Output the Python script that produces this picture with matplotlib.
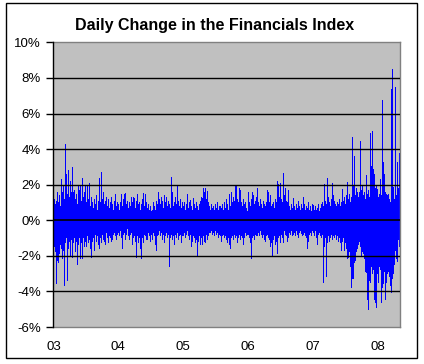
import numpy as np
import matplotlib
matplotlib.use("Agg")
import matplotlib.pyplot as plt
from matplotlib.patches import Rectangle

plt.rcParams['font.family'] = ['Liberation Sans', 'DejaVu Sans']

# Daily % change of the financials index, grouped in short periods
# (about 4 trading days each): largest gain and largest loss per period.
PERIODS_PER_YEAR = 65
start_year = 2003

gain_2003 = [3.0, 1.2, 0.9, 1.1, 1.6, 1.0, 1.4, 0.8, 2.3, 1.6, 1.9, 1.2, 4.3, 2.6, 1.5, 2.8,
             1.3, 2.2, 1.6, 3.0, 1.6, 1.7, 1.2, 1.5, 0.9, 2.0, 1.7, 2.0, 1.1, 2.4, 1.3, 1.6,
             2.0, 1.0, 2.0, 1.2, 2.1, 0.8, 1.3, 1.0, 0.7, 1.2, 0.9, 1.4, 0.6, 1.1, 2.4, 1.0,
             2.7, 1.2, 1.6, 0.9, 1.1, 1.3, 0.8, 1.2, 0.7, 1.0, 1.3, 0.9, 0.6, 1.1, 1.5, 0.8,
             1.0]
loss_2003 = [-1.1, -1.5, -1.8, -3.6, -2.3, -2.4, -1.9, -1.4, -1.6, -2.2, -1.7, -3.7, -1.3, -1.0, -3.4, -1.6,
             -1.2, -2.0, -1.1, -2.1, -1.3, -1.0, -1.8, -1.2, -2.5, -1.4, -1.0, -2.2, -1.3, -2.2, -1.0, -1.5,
             -1.2, -1.5, -0.9, -1.3, -1.1, -1.6, -2.1, -1.2, -1.0, -1.7, -0.8, -1.2, -0.9, -1.4, -1.6, -1.0,
             -1.3, -0.8, -1.1, -1.2, -1.4, -0.7, -1.0, -1.3, -0.9, -1.0, -1.2, -1.1, -0.8, -0.7, -0.9, -1.1,
             -0.8]

gain_2004 = [0.9, 0.6, 1.0, 1.45, 0.8, 1.2, 1.5, 1.55, 0.9, 1.1, 0.7, 1.0, 0.8, 1.3, 1.0, 1.3,
             1.25, 0.7, 1.1, 1.5, 0.9, 1.0, 0.6, 0.9, 1.2, 1.55, 0.8, 1.5, 1.0, 0.7, 0.9, 0.6,
             0.8, 0.5, 0.6, 1.0, 0.8, 0.6, 1.1, 0.9, 1.6, 1.2, 0.9, 1.3, 1.1, 0.7, 1.4, 1.0,
             1.3, 0.8, 1.1, 0.9, 0.7, 2.45, 1.6, 0.8, 1.0, 1.3, 0.9, 1.9, 1.1, 0.8, 1.2, 0.7,
             1.0]
loss_2004 = [-0.7, -0.9, -0.6, -1.0, -1.6, -0.8, -0.7, -1.1, -0.8, -0.5, -0.9, -1.1, -0.8, -0.7, -1.4, -1.0,
             -0.9, -1.2, -2.1, -0.9, -1.3, -1.0, -1.6, -2.2, -1.0, -1.3, -0.8, -0.9, -1.1, -1.1, -0.7, -0.9,
             -1.2, -0.8, -1.1, -0.7, -0.9, -1.4, -1.7, -0.9, -0.8, -0.6, -0.9, -0.7, -1.1, -0.8, -1.3, -0.9,
             -0.7, -1.0, -0.8, -2.6, -1.0, -0.8, -1.1, -0.9, -1.4, -0.8, -1.0, -0.7, -1.1, -0.9, -0.8, -1.3,
             -0.9]

gain_2005 = [0.8, 1.0, 0.6, 0.9, 1.5, 0.7, 1.0, 1.15, 0.8, 0.6, 1.25, 0.9, 0.7, 1.0, 0.8, 0.6,
             0.9, 1.1, 1.3, 1.25, 1.8, 1.6, 1.8, 1.2, 1.65, 1.0, 0.8, 0.6, 0.9, 0.7, 0.8, 0.6,
             0.9, 0.7, 1.0, 0.6, 0.8, 0.8, 0.7, 0.9, 0.6, 1.0, 0.7, 1.2, 0.9, 0.6, 1.45, 0.8,
             1.6, 1.0, 1.3, 1.1, 2.0, 1.9, 1.2, 1.0, 1.8, 1.7, 1.0, 0.8, 1.2, 0.9, 1.0, 0.7,
             0.5]
loss_2005 = [-0.9, -0.7, -1.0, -0.8, -0.6, -0.9, -1.1, -0.8, -1.5, -1.2, -0.9, -1.0, -1.3, -1.1, -2.0, -1.2,
             -0.9, -1.4, -1.0, -1.4, -0.9, -1.2, -1.3, -0.8, -1.1, -0.9, -0.7, -0.7, -0.6, -0.8, -0.7, -0.9,
             -0.6, -0.8, -0.7, -1.0, -0.8, -0.9, -1.2, -0.9, -0.8, -1.0, -0.9, -1.1, -1.3, -1.0, -1.4, -1.6,
             -1.0, -0.9, -1.1, -0.8, -1.0, -0.9, -1.3, -1.0, -0.8, -1.1, -0.9, -1.0, -1.4, -1.0, -0.7, -0.9,
             -0.8]

gain_2006 = [1.6, 1.0, 0.8, 1.2, 1.6, 1.4, 0.9, 1.1, 1.3, 1.8, 1.0, 0.8, 1.2, 0.9, 0.7, 1.1,
             0.9, 0.8, 1.0, 1.7, 1.6, 1.0, 1.4, 0.8, 0.9, 1.0, 0.7, 1.2, 1.0, 2.2, 2.05, 1.3,
             2.1, 1.2, 1.0, 2.65, 1.4, 1.8, 1.1, 1.0, 1.7, 0.8, 0.6, 0.9, 0.7, 1.25, 0.8, 0.6,
             0.9, 0.7, 1.1, 0.8, 0.6, 0.9, 0.7, 1.3, 0.9, 0.6, 0.8, 0.7, 1.0, 0.6, 0.8, 0.5,
             0.9]
loss_2006 = [-0.8, -1.0, -1.3, -2.15, -1.0, -0.9, -1.1, -0.8, -0.9, -0.9, -0.7, -0.9, -0.6, -0.8, -1.0, -0.8,
             -1.1, -1.2, -0.9, -0.8, -1.0, -1.1, -1.5, -1.3, -2.0, -1.1, -0.9, -1.4, -1.2, -1.9, -1.0, -0.9,
             -1.3, -0.8, -1.0, -1.3, -0.6, -0.8, -0.9, -1.2, -1.0, -0.7, -0.8, -0.6, -0.9, -0.8, -0.7, -0.9,
             -0.6, -0.8, -1.0, -0.7, -0.6, -0.75, -0.9, -0.8, -0.7, -0.9, -1.0, -1.6, -1.2, -0.8, -0.7, -0.9,
             -0.6]

gain_2007 = [0.85, 0.6, 0.8, 0.6, 0.7, 0.9, 0.5, 0.7, 0.9, 1.0, 0.8, 2.05, 1.1, 0.9, 2.4, 1.3,
             1.0, 0.8, 1.2, 2.1, 1.4, 1.1, 0.9, 0.8, 1.0, 0.9, 1.2, 0.8, 1.0, 1.75, 1.1, 1.3,
             0.9, 1.4, 2.15, 1.2, 1.5, 1.0, 1.3, 4.7, 1.9, 3.6, 1.4, 1.8, 1.6, 1.3, 1.6, 4.45,
             1.7, 2.0, 1.4, 1.6, 1.2, 2.55, 1.5, 1.7, 1.3, 4.9, 3.05, 5.0, 2.9, 2.6, 1.8, 2.0,
             1.75]
loss_2007 = [-0.7, -0.9, -0.6, -1.0, -1.4, -0.8, -0.7, -0.9, -1.0, -0.8, -3.55, -1.5, -1.0, -3.2, -1.3, -0.9,
             -1.2, -1.0, -0.8, -1.1, -0.9, -1.0, -0.8, -1.1, -0.9, -1.2, -1.0, -1.3, -1.7, -1.2, -1.0, -1.7,
             -1.3, -1.6, -2.15, -2.1, -1.8, -2.6, -3.8, -3.3, -3.3, -2.4, -2.3, -1.8, -1.6, -1.4, -1.2, -1.5,
             -2.0, -1.8, -1.9, -2.2, -2.9, -2.95, -4.5, -5.05, -3.4, -3.5, -2.6, -3.0, -2.8, -4.5, -4.67, -4.95,
             -3.0]

gain_2008 = [1.3, 1.5, 2.3, 1.4, 6.77, 3.3, 2.6, 1.6, 1.5, 1.4, 1.5, 1.2, 1.0, 7.4, 8.5, 1.85,
             1.2, 7.5, 1.4, 3.3, 1.8, 3.8]
loss_2008 = [-3.55, -2.6, -2.8, -4.67, -3.8, -3.6, -2.9, -4.5, -3.5, -3.0, -2.9, -3.2, -3.7, -4.1, -3.3, -3.0,
             -2.5, -1.7, -2.2, -2.35, -1.1, -1.5]

gains = np.array(gain_2003 + gain_2004 + gain_2005 + gain_2006 + gain_2007 + gain_2008)
losses = np.array(loss_2003 + loss_2004 + loss_2005 + loss_2006 + loss_2007 + loss_2008)

year_ticks = [2003, 2004, 2005, 2006, 2007, 2008]
year_labels = ["03", "04", "05", "06", "07", "08"]
pct_ticks = [-6, -4, -2, 0, 2, 4, 6, 8, 10]

t = start_year + np.arange(len(gains)) / PERIODS_PER_YEAR
w = 1.0 / PERIODS_PER_YEAR

fig = plt.figure(figsize=(4.24, 3.64), dpi=100)
fig.patch.set_facecolor('white')
ax = fig.add_axes([0.126, 0.1016, 0.817, 0.782])
ax.set_facecolor('#C0C0C0')

ax.bar(t, gains, width=w, align='edge', color='#0000FF', linewidth=0, antialiased=False, zorder=2)
ax.bar(t, losses, width=w, align='edge', color='#0000FF', linewidth=0, antialiased=False, zorder=2)

# gridlines sit over the bars, zero line is the category axis
for v in pct_ticks[1:-1]:
    ax.axhline(v, color='black', linewidth=1.0 if v != 0 else 1.2, zorder=3)

ax.set_xlim(start_year, start_year + len(gains) / PERIODS_PER_YEAR)
ax.set_ylim(-6, 10)

ax.set_yticks(pct_ticks)
ax.set_yticklabels([f"{v}%" for v in pct_ticks])
ax.set_xticks(year_ticks)
ax.set_xticklabels(year_labels)

ax.tick_params(axis='y', direction='out', length=5, width=1, color='black', pad=4, labelsize=9.5)
ax.tick_params(axis='x', length=0, pad=10, labelsize=9.5)

for side in ['top', 'right', 'bottom']:
    ax.spines[side].set_color('#808080')
    ax.spines[side].set_linewidth(1.0)
ax.spines['left'].set_color('black')
ax.spines['left'].set_linewidth(1.0)
ax.spines['left'].set_zorder(4)

fig.text(0.505, 0.93, "Daily Change in the Financials Index", ha='center', va='center',
         fontsize=11.5, fontweight='bold')

# chart-area frame
fig.patches.append(Rectangle((5.5 / 424, 6.5 / 364), 411 / 424, 355 / 364,
                             transform=fig.transFigure, fill=False,
                             edgecolor='black', linewidth=1.0))

fig.savefig("out.png", dpi=100, facecolor=fig.get_facecolor())
